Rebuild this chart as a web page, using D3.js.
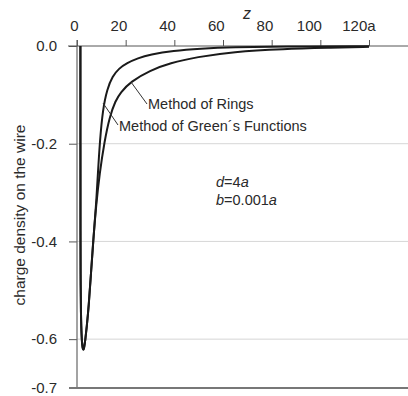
<!DOCTYPE html>
<html>
<head>
<meta charset="utf-8">
<script src="https://cdn.jsdelivr.net/npm/d3@7"></script>
<style>
  body { margin: 0; background: #fff; }
  text { font-family: "Liberation Sans", Arial, sans-serif; fill: #2a2a2a; }
</style>
</head>
<body>
<div id="chart"></div>
<script>
// values (z in units of a, charge density)
var sharedZ = [1.40, 1.41, 1.43, 1.47, 1.6, 1.9, 2.2, 2.6, 3.0, 3.4, 4.0, 4.8, 5.75, 6.7, 7.8];
var sharedV = [0, -0.2, -0.4, -0.47, -0.55, -0.597, -0.616, -0.624, -0.616, -0.602, -0.575, -0.534, -0.465, -0.397, -0.329];

var greenZ = [8.6, 9.4, 10.6, 12.4, 14.6, 17.2, 20.5, 25, 30, 39.5, 50.6, 64, 84.7, 120];
var greenV = [-0.26, -0.195, -0.13, -0.088, -0.062, -0.046, -0.035, -0.025, -0.0175, -0.0095, -0.0052, -0.0022, -0.0009, -0.0003];

var ringsZ = [9.3, 11.3, 13.4, 15.8, 17.9, 22.0, 30, 38.2, 49.3, 64, 84.7, 105, 120];
var ringsV = [-0.26, -0.195, -0.145, -0.112, -0.095, -0.073, -0.050, -0.035, -0.0225, -0.0117, -0.006, -0.0035, -0.0015];

var xTicks = [0, 20, 40, 60, 80, 100, 120];
var yTicks = [0, -0.2, -0.4, -0.6, -0.7];
var gridTicks = [-0.2, -0.4, -0.6];

var W = 408, H = 396;
var svg = d3.select('#chart').append('svg').attr('width', W).attr('height', H);

var x = d3.scaleLinear().domain([0, 120]).range([77, 369]);
var y = d3.scaleLinear().domain([-0.7, 0]).range([388, 46]);

// grid lines
svg.append('g').selectAll('line').data(gridTicks).enter().append('line')
    .attr('x1', x(0)).attr('x2', W)
    .attr('y1', function (d) { return y(d); }).attr('y2', function (d) { return y(d); })
    .attr('stroke', '#d6d6d6').attr('stroke-width', 1);

// top axis
var xAxis = svg.append('g').attr('transform', 'translate(0,' + y(0) + ')')
    .call(d3.axisTop(x).tickValues(xTicks).tickSize(6).tickPadding(9));
xAxis.select('.domain').remove();
xAxis.selectAll('.tick line').attr('stroke', '#555');
xAxis.selectAll('.tick text').attr('text-anchor', 'end').attr('dx', '0.07em')
    .style('font-size', '15px').attr('fill', '#2a2a2a');
var last = xAxis.selectAll('.tick').filter(function (d) { return d === 120; }).select('text');
last.append('tspan').text('a');
last.attr('text-anchor', 'start').attr('dx', '-1.82em');

// left axis
var yAxis = svg.append('g').attr('transform', 'translate(' + x(0) + ',0)')
    .call(d3.axisLeft(y).tickValues(yTicks).tickSize(8).tickPadding(12)
        .tickFormat(function (d) { return d.toFixed(1); }));
yAxis.select('.domain').remove();
yAxis.selectAll('.tick line').attr('stroke', '#555');
yAxis.selectAll('.tick text').style('font-size', '15px').attr('fill', '#2a2a2a');

svg.append('line').attr('x1', x(0)).attr('x2', x(0)).attr('y1', y(0) - 6).attr('y2', y(-0.7))
    .attr('stroke', '#666').attr('stroke-width', 1.2);
svg.append('line').attr('x1', 68).attr('x2', W).attr('y1', y(0)).attr('y2', y(0))
    .attr('stroke', '#555').attr('stroke-width', 1);
svg.append('line').attr('x1', 69).attr('x2', W).attr('y1', y(-0.7)).attr('y2', y(-0.7))
    .attr('stroke', '#777').attr('stroke-width', 2);

// curves
function pts(zs, vs) {
    return zs.map(function (z, i) { return [z, vs[i]]; });
}
var line = d3.line()
    .x(function (d) { return x(d[0]); })
    .y(function (d) { return y(d[1]); })
    .curve(d3.curveBasis);

[pts(sharedZ, sharedV).concat(pts(greenZ, greenV)),
 pts(sharedZ, sharedV).concat(pts(ringsZ, ringsV))].forEach(function (s) {
    svg.append('path').datum(s).attr('d', line)
        .attr('fill', 'none').attr('stroke', '#1a1a1a').attr('stroke-width', 2);
});

// labels
svg.append('text').attr('x', 247).attr('y', 19).attr('text-anchor', 'middle')
    .style('font-size', '16px').style('font-style', 'italic').text('z');

svg.append('text').attr('transform', 'translate(25,215) rotate(-90)')
    .attr('text-anchor', 'middle').style('font-size', '15.5px')
    .text('charge density on the wire');

svg.append('line').attr('x1', 131).attr('y1', 82).attr('x2', 147).attr('y2', 104)
    .attr('stroke', '#333').attr('stroke-width', 1);
svg.append('text').attr('x', 148).attr('y', 109).style('font-size', '14.5px').text('Method of Rings');

svg.append('line').attr('x1', 103).attr('y1', 103).attr('x2', 118).attr('y2', 125)
    .attr('stroke', '#333').attr('stroke-width', 1);
svg.append('text').attr('x', 119).attr('y', 131).style('font-size', '14.5px')
    .text('Method of Green\u00b4s Functions');

var t1 = svg.append('text').attr('x', 216).attr('y', 187).style('font-size', '14.5px');
t1.append('tspan').style('font-style', 'italic').text('d');
t1.append('tspan').text('=4');
t1.append('tspan').style('font-style', 'italic').text('a');
var t2 = svg.append('text').attr('x', 216).attr('y', 205).style('font-size', '14.5px');
t2.append('tspan').style('font-style', 'italic').text('b');
t2.append('tspan').text('=0.001');
t2.append('tspan').style('font-style', 'italic').text('a');
</script>
</body>
</html>
